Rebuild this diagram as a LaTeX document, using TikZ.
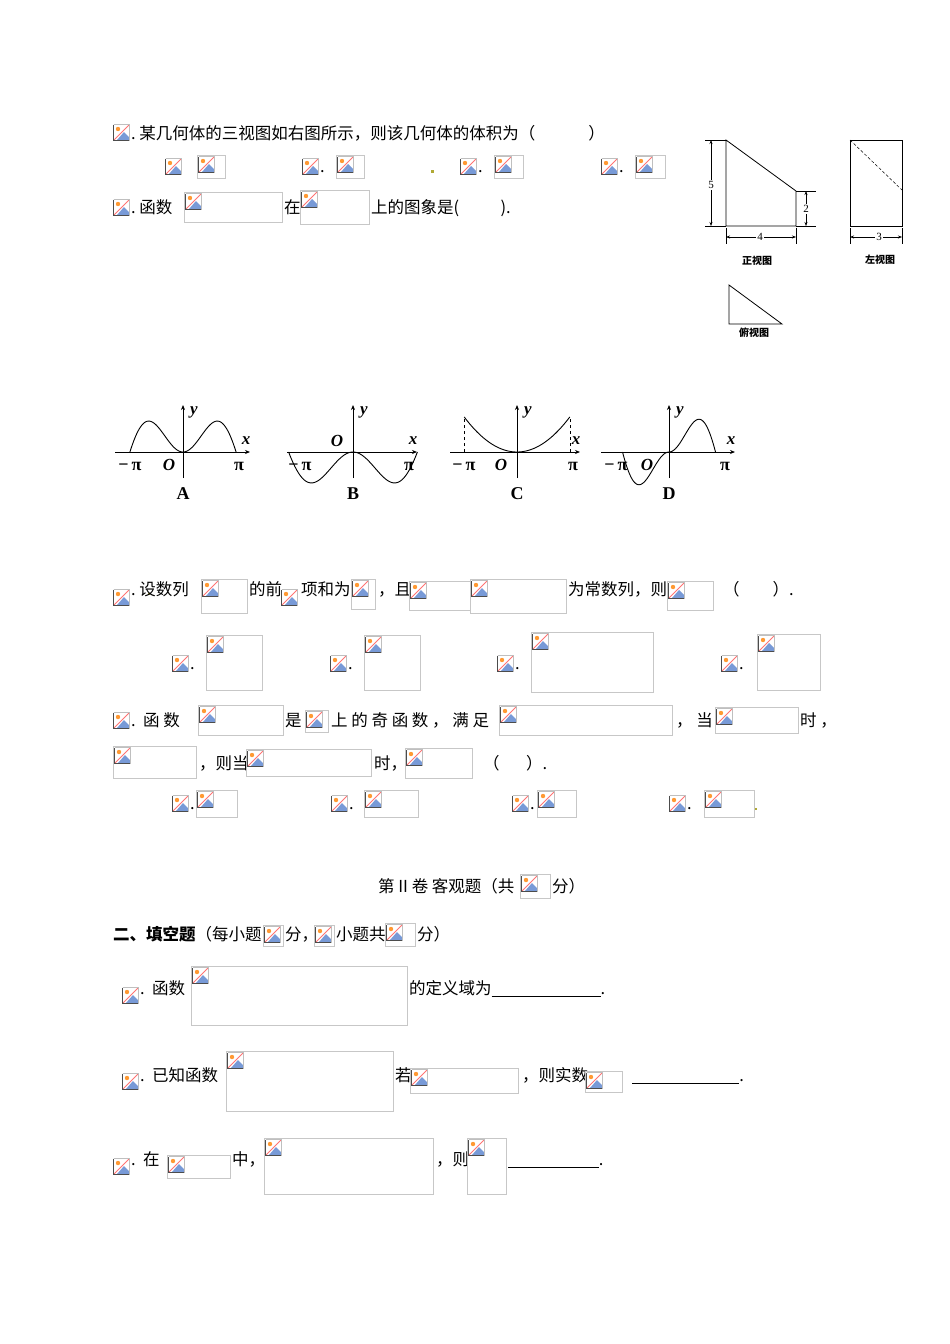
\documentclass[tikz,border=0pt]{standalone}
\usepackage{fontspec}
\setmainfont{Noto Sans CJK SC}
\newfontfamily\mth{Liberation Serif}
\usetikzlibrary{arrows.meta}
\tikzset{
 boxc/.style={draw=black!22,line width=0.8pt},
 tx/.style={anchor=base west,inner sep=0pt,font=\fontsize{16.5}{18}\selectfont},
 sm/.style={anchor=center,inner sep=1pt,font=\fontsize{10}{11}\selectfont\bfseries},
 num/.style={anchor=center,inner sep=1pt,font=\mth\fontsize{11}{12}\selectfont},
 ax/.style={-{Stealth[length=5pt,width=4pt]},line width=0.8pt},
 cv/.style={line width=0.9pt},
 gl/.style={inner sep=0pt,font=\mth\bfseries\itshape\fontsize{17}{18}\selectfont},
 gp/.style={inner sep=0pt,font=\mth\bfseries\fontsize{18}{19}\selectfont},
 dim/.style={{Stealth[length=4pt,width=3pt]}-{Stealth[length=4pt,width=3pt]},line width=0.5pt},
 thin/.style={line width=0.5pt}
}
\newcommand\ic[2]{\begin{scope}[shift={(#1,#2)}]
 \fill[white] (0,0) rectangle (17,17);
 \fill[cyan!45!blue!55] (4,16) -- (11,8) -- (16,13) -- (16,16) -- cycle;
 \fill[orange!80] (5,5) circle (2.2);
 \draw[red!55,line width=1pt] (1,16) -- (16,1);
 \draw[black!70,line width=0.9pt] (0.5,0.5) -- (0.5,16.5) -- (16.5,16.5);
 \draw[black!25,line width=0.6pt] (0.5,0.5) -- (16.5,0.5) -- (16.5,16.5);
\end{scope}}
\newcommand\bx[4]{\draw[boxc] (#1,#2) rectangle (#3,#4); \ic{#1+1}{#2+1}}
\begin{document}
\begin{tikzpicture}[x=1pt,y=-1pt]
\useasboundingbox (0,0) rectangle (950,1344);
\fill[white] (0,0) rectangle (950,1344);
% Q1
\ic{113}{124}\node[tx] (q1) at (131,139) {.\ 某几何体的三视图如右图所示，则该几何体的体积为（\hspace{3.2em}）};
\ic{165}{158}\bx{197}{155}{225}{178}
\ic{302}{158}\node[tx] (d1) at (320,172) {.};\bx{336}{155}{364}{178}
\fill[olive!70] (431,170) rectangle (434,173);
\ic{460}{158}\node[tx] (d2) at (478,172) {.};\bx{494}{155}{523}{178}
\ic{601}{158}\node[tx] (d3) at (619,172) {.};\bx{635}{155}{665}{178}
% Q2
\ic{113}{199}\node[tx] (q2) at (131,213) {.\ 函数};
\bx{184}{192}{282}{222}\node[tx] (q2b) at (284,213) {在};
\bx{300}{190}{369}{224}\node[tx] (q2c) at (371,213) {上的图象是(\hspace{2.5em}).};
% three views
\draw[line width=0.8pt] (726,140) -- (726,226) -- (796,226) -- (796,191) -- cycle;
\draw[thin] (705,140) -- (726,140) (705,226) -- (726,226);
\draw[dim] (711,140) -- (711,226);\node[num,fill=white] (n5) at (711,185) {5};
\draw[thin] (796,191) -- (816,191) (796,226) -- (816,226);
\draw[dim] (806,191) -- (806,226);\node[num,fill=white] (n2) at (806,209) {2};
\draw[thin] (726,228) -- (726,244) (796,228) -- (796,244);
\draw[dim] (726,237) -- (796,237);\node[num,fill=white] (n4) at (760,237) {4};
\node[sm] (v1) at (757,261) {正视图};
\draw[line width=0.8pt] (850,140) rectangle (902,226);
\draw[thin,densely dashed] (850,140) -- (902,190);
\draw[thin] (850,228) -- (850,244) (902,228) -- (902,244);
\draw[dim] (850,237) -- (902,237);\node[num,fill=white] (n3) at (879,237) {3};
\node[sm] (v2) at (880,260) {左视图};
\draw[line width=0.8pt] (729,285) -- (729,324) -- (782,324) -- cycle;
\node[sm] (v3) at (754,333) {俯视图};
% graphs
\foreach \ox/\xa/\xb/\L in {183/115/250/A,353/287/417/B,517/450/580/C,669/601/735/D}{
 \draw[ax] (\xa,452) -- (\xb,452);
 \draw[ax] (\ox,478) -- (\ox,405);
 \node[gl] at (\ox+11,412) {y};
 \node[gl] at (\xb-4,441) {x};
 \node[gp] at (\ox-53,466) {−\,π};
 \node[gp] at (\ox+56,466) {π};
 \node[gp] at (\ox,494) {\L};
}
\node[gl] at (169,465) {O};\node[gl] at (337,441) {O};\node[gl] at (501,465) {O};\node[gl] at (647,465) {O};
\draw[cv] plot[domain=-3.1416:3.1416,samples=80,smooth] ({183+16.9*\x},{452-17*\x*sin(\x r)});
\draw[cv] plot[domain=-3.1416:3.1416,samples=80,smooth] ({353+20.5*\x},{452+17*\x*sin(\x r)});
\draw[cv] plot[domain=-3.1416:3.1416,samples=60,smooth] ({517+16.8*\x},{452-3.55*\x*\x});
\draw[thin,dashed] (464,452) -- (464,417) (570,452) -- (570,417);
\draw[cv] plot[domain=-3.1416:3.1416,samples=80,smooth] ({669+14.8*\x},{452-18*abs(\x)*sin(\x r)});
% Q3
\ic{113}{589}\fill[olive!70] (148,593) rectangle (150,595);
\node[tx] (q3) at (131,595) {.\ 设数列};
\bx{201}{579}{247}{613}\node[tx] at (249,595) {的前};
\ic{281}{589}\node[tx] at (301,595) {项和为};
\bx{351}{579}{375}{609}\node[tx] at (378,595) {，且};
\bx{409}{581}{470}{610}\bx{470}{579}{566}{613}
\node[tx] at (568,595) {为常数列，则};
\bx{667}{581}{713}{610}\node[tx] at (723,595) {（\hspace{2em}）.};
\ic{172}{655}\node[tx] at (190,669) {.};\bx{206}{635}{262}{690}
\ic{330}{655}\node[tx] at (348,669) {.};\bx{364}{635}{420}{690}
\ic{497}{655}\node[tx] at (515,669) {.};\bx{531}{632}{653}{692}
\ic{721}{655}\node[tx] at (739,669) {.};\bx{757}{634}{820}{690}
% Q4
\ic{113}{712}\node[tx] (q4) at (131,726) {.\ \ 函\ 数};
\bx{198}{705}{283}{735}\node[tx] at (285,726) {是};
\bx{305}{710}{328}{732}\node[tx] at (331,726) {上\ 的\ 奇\ 函\ 数\ ，\ 满\ 足};
\bx{499}{705}{672}{735}\node[tx] at (676,726) {，\ 当};
\bx{715}{707}{798}{733}\node[tx] at (800,726) {时\ ，};
\bx{113}{746}{196}{778}\node[tx] at (199,769) {，则当};
\bx{246}{749}{371}{776}\node[tx] at (374,769) {时，};
\bx{405}{748}{472}{778}\node[tx] at (483,769) {（\hspace{1.6em}）.};
\ic{172}{795}\node[tx] at (190,809) {.};\bx{196}{790}{237}{817}
\ic{331}{795}\node[tx] at (349,809) {.};\bx{364}{790}{418}{817}
\ic{512}{795}\node[tx] at (530,809) {.};\bx{537}{790}{576}{817}
\ic{669}{795}\node[tx] at (687,809) {.};\bx{704}{790}{754}{817}
\fill[olive!70] (755,808) rectangle (757,810);
% Part II
\node[tx] (p2) at (378,892) {第 II 卷\ 客观题（共};
\bx{520}{874}{550}{898}\node[tx] at (552,892) {分）};
\node[tx] (s2) at (113,940) {\bfseries 二、填空题{\mdseries（每小题}};
\bx{263}{925}{283}{946}\node[tx] at (285,940) {分，};
\bx{314}{925}{334}{946}\node[tx] at (336,940) {小题共};
\bx{385}{923}{415}{946}\node[tx] at (417,940) {分）};
% Q5
\ic{122}{987}\node[tx] (q5) at (140,994) {.\ \ 函数};
\bx{191}{966}{407}{1025}\node[tx] at (409,994) {的定义域为\rule[-2pt]{6.6em}{0.5pt}.};
% Q6
\ic{122}{1073}\node[tx] (q6) at (140,1081) {.\ \ 已知函数};
\bx{226}{1051}{393}{1111}\node[tx] at (395,1081) {若};
\bx{410}{1068}{518}{1093}\node[tx] at (522,1081) {，则实数};
\bx{585}{1071}{622}{1092}\node[tx] at (632,1081) {\rule[-2pt]{6.5em}{0.5pt}.};
% Q7
\ic{113}{1158}\node[tx] (q7) at (131,1165) {.\ \ 在};
\bx{167}{1155}{230}{1178}\node[tx] at (232,1165) {中，};
\bx{264}{1138}{433}{1194}\node[tx] at (436,1165) {，则};
\bx{467}{1138}{506}{1194}\node[tx] at (508,1165) {\rule[-2pt]{5.5em}{0.5pt}.};
\end{tikzpicture}
\end{document}
